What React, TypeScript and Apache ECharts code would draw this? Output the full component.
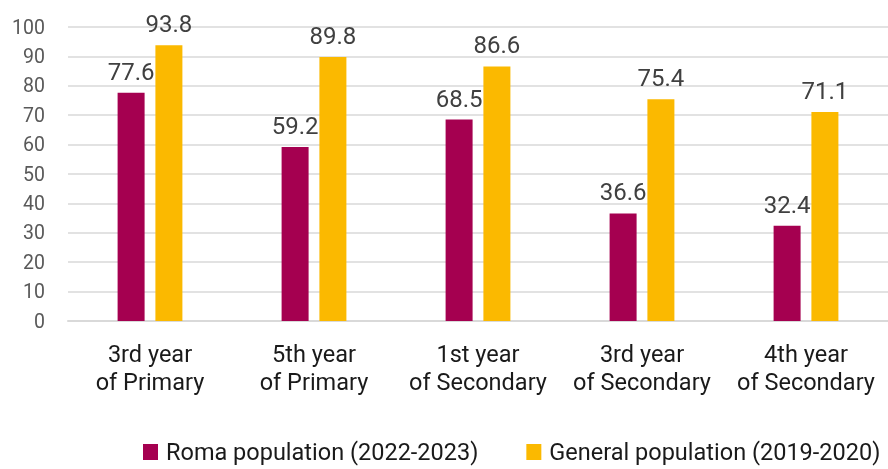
import React, { useEffect, useRef } from "react";
import * as echarts from "echarts";

const categories = ["3rd year\nof Primary", "5th year\nof Primary", "1st year\nof Secondary", "3rd year\nof Secondary", "4th year\nof Secondary"];
const romaValues = [77.6, 59.2, 68.5, 36.6, 32.4];
const generalValues = [93.8, 89.8, 86.6, 75.4, 71.1];
const seriesNames = ["Roma population (2022-2023)", "General population (2019-2020)"];
const seriesColors = ["#a50050", "#fbb900"];

export default function App() {
  const ref = useRef<HTMLDivElement>(null);
  useEffect(() => {
    if (!ref.current) return;
    const chart = echarts.init(ref.current, undefined, { renderer: "svg" });
    const labelStyle = {
      show: true,
      position: "top" as const,
      distance: 9,
      color: "#404040",
      fontSize: 24,
      fontFamily: "Roboto",
      formatter: (p: any) => p.value.toFixed(1),
    };
    chart.setOption({
      animation: false,
      textStyle: { fontFamily: "Roboto" },
      grid: { left: 68, right: -10, top: 27, bottom: 148, containLabel: false },
      legend: {
        left: 138,
        top: 435,
        itemWidth: 15,
        itemHeight: 16,
        itemGap: 48,
        icon: "rect",
        textStyle: { fontSize: 23.5, color: "#1a1a1a", fontFamily: "Roboto", padding: [0, 0, 0, 3] },
        data: seriesNames,
      },
      xAxis: {
        type: "category",
        data: categories,
        axisLine: { lineStyle: { color: "#d9d9d9", width: 2 } },
        axisTick: { show: false },
        axisLabel: { interval: 0, fontSize: 23.5, color: "#1a1a1a", lineHeight: 28, margin: 19, fontFamily: "Roboto" },
      },
      yAxis: {
        type: "value",
        min: 0,
        max: 100,
        interval: 10,
        axisLine: { show: false },
        axisTick: { show: false },
        splitLine: { lineStyle: { color: "#d9d9d9", width: 1.5 } },
        axisLabel: { fontSize: 19.5, color: "#595959", margin: 23, fontFamily: "Roboto" },
      },
      series: [
        {
          name: seriesNames[0],
          type: "bar",
          data: romaValues,
          barWidth: 27,
          barGap: "40%",
          itemStyle: { color: seriesColors[0] },
          label: labelStyle,
        },
        {
          name: seriesNames[1],
          type: "bar",
          data: generalValues,
          barWidth: 27,
          itemStyle: { color: seriesColors[1] },
          label: labelStyle,
        },
      ],
    });
    return () => chart.dispose();
  }, []);
  return <div ref={ref} style={{ position: "fixed", left: 0, top: 0, width: 888, height: 469 }} />;
}
